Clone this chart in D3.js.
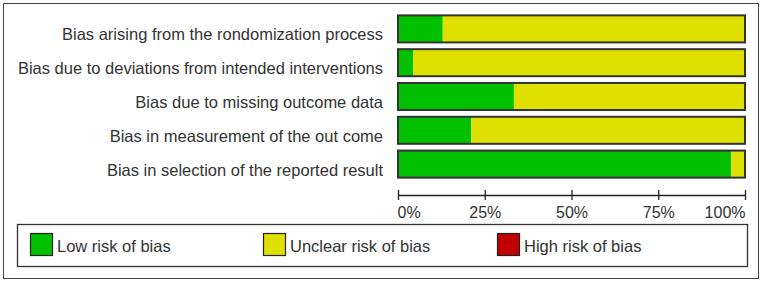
<!doctype html>
<html>
<head>
<meta charset="UTF-8">
<title>Risk of bias graph</title>
<script src="https://d3js.org/d3.v7.min.js"></script>
<style>
  body { margin: 0; background: #fff; }
  text { font-family: "Liberation Sans", Arial, sans-serif; }
</style>
</head>
<body>
<svg id="chart" width="762" height="282"></svg>
<script>
// domains of the risk of bias tool
var domains = [
  "Bias arising from the rondomization process",
  "Bias due to deviations from intended interventions",
  "Bias due to missing outcome data",
  "Bias in measurement of the out come",
  "Bias in selection of the reported result"
];
// percent of studies in each judgement
var lowRisk     = [12.9, 4.4, 33.4, 21.1, 96.0];
var unclearRisk = [87.1, 95.6, 66.6, 78.9, 4.0];
var highRisk    = [0, 0, 0, 0, 0];

var tickValues = [0, 25, 50, 75, 100];
var legendLabels = ["Low risk of bias", "Unclear risk of bias", "High risk of bias"];
var colors = ["#00c000", "#e0e000", "#c00000"];

var svg = d3.select("#chart");

// outer frame
svg.append("rect")
  .attr("x", 3.5).attr("y", 3.5)
  .attr("width", 755).attr("height", 275)
  .attr("fill", "#fff")
  .attr("stroke", "#444").attr("stroke-width", 1);

var x = d3.scaleLinear().domain([0, 100]).range([398, 745]);
var y = d3.scaleBand().domain(domains).range([12, 181]).paddingInner(0.2).paddingOuter(0.1);

var rows = domains.map(function(d, i) {
  return {name: d, parts: [lowRisk[i], unclearRisk[i], highRisk[i]]};
});

var row = svg.selectAll(".row")
  .data(rows)
  .enter().append("g")
  .attr("class", "row")
  .attr("transform", function(d) { return "translate(0," + y(d.name) + ")"; });

row.each(function(d) {
  var g = d3.select(this), start = 0;
  d.parts.forEach(function(v, k) {
    if (v > 0) {
      g.append("rect")
        .attr("x", x(start)).attr("y", 0)
        .attr("width", x(start + v) - x(start))
        .attr("height", y.bandwidth())
        .attr("fill", colors[k]);
    }
    start += v;
  });
  g.append("rect")
    .attr("x", x(0)).attr("y", 0)
    .attr("width", x(100) - x(0))
    .attr("height", y.bandwidth())
    .attr("fill", "none")
    .attr("stroke", "#333").attr("stroke-width", 2);
});

// labels sit a little below the bar middle, as in the original
row.append("text")
  .attr("x", 383)
  .attr("y", y.bandwidth() - 2)
  .attr("text-anchor", "end")
  .attr("font-size", "16.5px")
  .attr("fill", "#333")
  .text(function(d) { return d.name; });

// percentage axis
var axis = svg.append("g")
  .attr("transform", "translate(0,195)")
  .call(d3.axisBottom(x)
    .tickValues(tickValues)
    .tickSizeInner(5)
    .tickSizeOuter(0)
    .tickFormat(function(d) { return d + "%"; }));
axis.select(".domain").attr("stroke", "#222").attr("stroke-width", 1.3);
axis.selectAll(".tick line")
  .attr("y1", -5).attr("y2", 5)
  .attr("stroke", "#222").attr("stroke-width", 1.3);
axis.selectAll(".tick text")
  .attr("y", 23)
  .attr("dy", null)
  .attr("font-size", "16px")
  .attr("font-family", "\"Liberation Sans\", Arial, sans-serif")
  .attr("fill", "#333")
  .attr("text-anchor", function(d) { return d === 0 ? "start" : d === 100 ? "end" : "middle"; })
  .attr("x", function(d) { return d === 0 ? -1 : 0; });

// legend
var legend = svg.append("g");
legend.append("rect")
  .attr("x", 17.5).attr("y", 224.5)
  .attr("width", 730).attr("height", 42)
  .attr("fill", "#fff")
  .attr("stroke", "#333").attr("stroke-width", 1.3);

var legendX = [30, 263, 497];
var item = legend.selectAll(".item")
  .data(legendLabels)
  .enter().append("g")
  .attr("class", "item")
  .attr("transform", function(d, i) { return "translate(" + legendX[i] + ",233)"; });

item.append("rect")
  .attr("x", 0.5).attr("y", 0.5)
  .attr("width", 22).attr("height", 22)
  .attr("fill", function(d, i) { return colors[i]; })
  .attr("stroke", "#222").attr("stroke-width", 1.2);

item.append("text")
  .attr("x", 27).attr("y", 19)
  .attr("font-size", "16.5px")
  .attr("fill", "#333")
  .text(function(d) { return d; });
</script>
</body>
</html>
